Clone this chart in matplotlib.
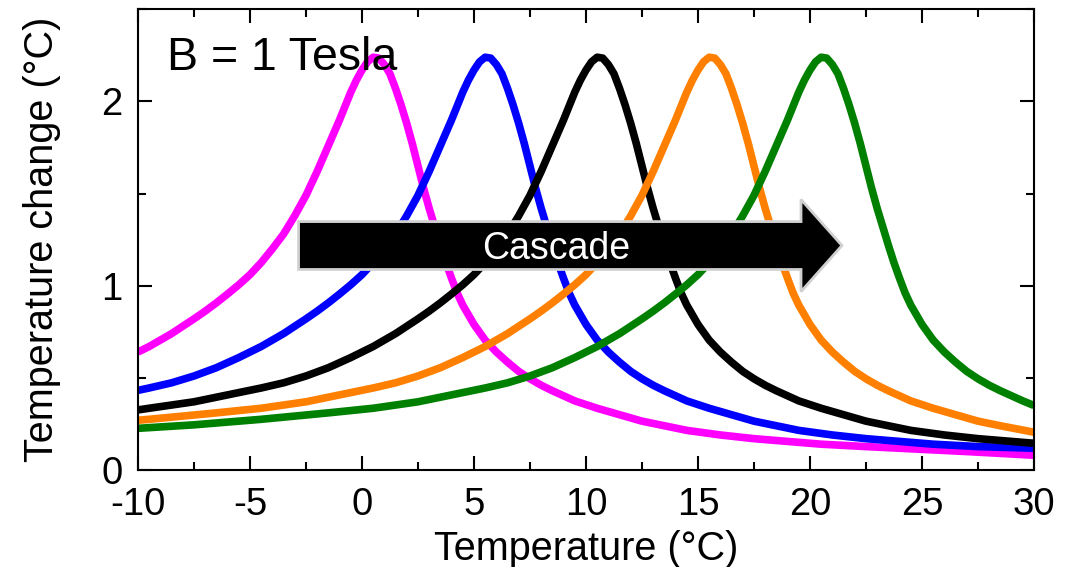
import matplotlib
matplotlib.use("Agg")
import matplotlib.pyplot as plt
from matplotlib.patches import FancyArrow
from matplotlib.ticker import MultipleLocator

plt.rcParams['font.family'] = ['Liberation Sans', 'DejaVu Sans']
plt.rcParams['axes.unicode_minus'] = False

# Adiabatic temperature change of five cascaded stages, B = 1 T
t_magenta = [-10, -9.5, -9, -8.5, -8,
             -7.5, -7, -6.5, -6, -5.5, -5, -4.5, -4, -3.5, -3, -2.5, -2, -1.5, -1, -0.5,
             -0.25, 0, 0.25, 0.5, 0.75, 1, 1.25, 1.5, 1.75, 2, 2.25, 2.5, 2.75, 3, 3.25, 3.5, 3.75, 4, 4.25, 4.5,
             5, 5.5, 6, 6.5, 7, 7.5, 8, 8.5,
             9.5, 10.5, 11.5, 12.5, 13.5, 14.5, 16, 17.5, 19, 20.5, 22.5, 24.5, 27, 30]
dt_magenta = [0.64, 0.67, 0.705, 0.74, 0.78,
              0.82, 0.862, 0.907, 0.955, 1.005, 1.06, 1.125, 1.20, 1.28, 1.38, 1.49, 1.62, 1.76, 1.90, 2.05,
              2.115, 2.17, 2.215, 2.24, 2.235, 2.20, 2.15, 2.07, 1.98, 1.88, 1.77, 1.65, 1.53, 1.42, 1.32, 1.22, 1.125, 1.04, 0.96, 0.895,
              0.79, 0.705, 0.64, 0.585, 0.535, 0.495, 0.46, 0.43,
              0.375, 0.335, 0.30, 0.265, 0.24, 0.215, 0.19, 0.17, 0.155, 0.14, 0.127, 0.115, 0.10, 0.08]

t_blue = [-10, -9.5, -8.5, -7.5, -6.5, -5.5, -4.5, -4, -3.5, -3,
          -2.5, -2, -1.5, -1, -0.5, 0, 0.5, 1, 1.5, 2, 2.5, 3, 3.5, 4, 4.5,
          4.75, 5, 5.25, 5.5, 5.75, 6, 6.25, 6.5, 6.75, 7, 7.25, 7.5, 7.75, 8, 8.25, 8.5, 8.75, 9, 9.25, 9.5,
          10, 10.5, 11, 11.5, 12, 12.5, 13, 13.5,
          14.5, 15.5, 16.5, 17.5, 18.5, 19.5, 21, 22.5, 24, 25.5, 27.5, 30]
dt_blue = [0.432, 0.445, 0.473, 0.51, 0.555, 0.61, 0.67, 0.705, 0.74, 0.78,
           0.82, 0.862, 0.907, 0.955, 1.005, 1.06, 1.125, 1.20, 1.28, 1.38, 1.49, 1.62, 1.76, 1.90, 2.05,
           2.115, 2.17, 2.215, 2.24, 2.235, 2.20, 2.15, 2.07, 1.98, 1.88, 1.77, 1.65, 1.53, 1.42, 1.32, 1.22, 1.125, 1.04, 0.96, 0.895,
           0.79, 0.705, 0.64, 0.585, 0.535, 0.495, 0.46, 0.43,
           0.375, 0.335, 0.30, 0.265, 0.24, 0.215, 0.19, 0.17, 0.155, 0.14, 0.127, 0.118]

t_black = [-10, -9.5, -7.5, -5.5, -4.5, -3.5, -2.5, -1.5, -0.5, 0.5, 1, 1.5, 2,
           2.5, 3, 3.5, 4, 4.5, 5, 5.5, 6, 6.5, 7, 7.5, 8, 8.5, 9, 9.5,
           9.75, 10, 10.25, 10.5, 10.75, 11, 11.25, 11.5, 11.75, 12, 12.25, 12.5, 12.75, 13, 13.25, 13.5, 13.75, 14, 14.25, 14.5,
           15, 15.5, 16, 16.5, 17, 17.5, 18, 18.5,
           19.5, 20.5, 21.5, 22.5, 23.5, 24.5, 26, 27.5, 29, 30]
dt_black = [0.326, 0.335, 0.37, 0.42, 0.445, 0.473, 0.51, 0.555, 0.61, 0.67, 0.705, 0.74, 0.78,
            0.82, 0.862, 0.907, 0.955, 1.005, 1.06, 1.125, 1.20, 1.28, 1.38, 1.49, 1.62, 1.76, 1.90, 2.05,
            2.115, 2.17, 2.215, 2.24, 2.235, 2.20, 2.15, 2.07, 1.98, 1.88, 1.77, 1.65, 1.53, 1.42, 1.32, 1.22, 1.125, 1.04, 0.96, 0.895,
            0.79, 0.705, 0.64, 0.585, 0.535, 0.495, 0.46, 0.43,
            0.375, 0.335, 0.30, 0.265, 0.24, 0.215, 0.19, 0.17, 0.155, 0.145]

t_orange = [-10, -9.5, -6.5, -4.5, -2.5, -0.5, 0.5, 1.5, 2.5, 3.5, 4.5, 5.5, 6, 6.5, 7,
            7.5, 8, 8.5, 9, 9.5, 10, 10.5, 11, 11.5, 12, 12.5, 13, 13.5, 14, 14.5,
            14.75, 15, 15.25, 15.5, 15.75, 16, 16.25, 16.5, 16.75, 17, 17.25, 17.5, 17.75, 18, 18.25, 18.5, 18.75, 19, 19.25, 19.5,
            20, 20.5, 21, 21.5, 22, 22.5, 23, 23.5,
            24.5, 25.5, 26.5, 27.5, 28.5, 30]
dt_orange = [0.27, 0.275, 0.31, 0.335, 0.37, 0.42, 0.445, 0.473, 0.51, 0.555, 0.61, 0.67, 0.705, 0.74, 0.78,
             0.82, 0.862, 0.907, 0.955, 1.005, 1.06, 1.125, 1.20, 1.28, 1.38, 1.49, 1.62, 1.76, 1.90, 2.05,
             2.115, 2.17, 2.215, 2.24, 2.235, 2.20, 2.15, 2.07, 1.98, 1.88, 1.77, 1.65, 1.53, 1.42, 1.32, 1.22, 1.125, 1.04, 0.96, 0.895,
             0.79, 0.705, 0.64, 0.585, 0.535, 0.495, 0.46, 0.43,
             0.375, 0.335, 0.30, 0.265, 0.24, 0.205]

t_green = [-10, -7.5, -4.5, -1.5, 0.5, 2.5, 4.5, 5.5, 6.5, 7.5, 8.5, 9.5, 10.5, 11, 11.5, 12,
           12.5, 13, 13.5, 14, 14.5, 15, 15.5, 16, 16.5, 17, 17.5, 18, 18.5, 19, 19.5,
           19.75, 20, 20.25, 20.5, 20.75, 21, 21.25, 21.5, 21.75, 22, 22.25, 22.5, 22.75, 23, 23.25, 23.5, 23.75, 24, 24.25, 24.5,
           25, 25.5, 26, 26.5, 27, 27.5, 28, 28.5,
           29.5, 30]
dt_green = [0.226, 0.245, 0.275, 0.31, 0.335, 0.37, 0.42, 0.445, 0.473, 0.51, 0.555, 0.61, 0.67, 0.705, 0.74, 0.78,
            0.82, 0.862, 0.907, 0.955, 1.005, 1.06, 1.125, 1.20, 1.28, 1.38, 1.49, 1.62, 1.76, 1.90, 2.05,
            2.115, 2.17, 2.215, 2.24, 2.235, 2.20, 2.15, 2.07, 1.98, 1.88, 1.77, 1.65, 1.53, 1.42, 1.32, 1.22, 1.125, 1.04, 0.96, 0.895,
            0.79, 0.705, 0.64, 0.585, 0.535, 0.495, 0.46, 0.43,
            0.375, 0.35]

curves = [
    (t_magenta, dt_magenta, '#ff00ff'),
    (t_blue, dt_blue, '#0000ff'),
    (t_black, dt_black, '#000000'),
    (t_orange, dt_orange, '#ff8000'),
    (t_green, dt_green, '#008000'),
]

fig = plt.figure(figsize=(10.82, 5.67), dpi=100)
ax = fig.add_axes([0.1275, 0.1711, 0.8281, 0.8125])

for t, dt, color in curves:
    ax.plot(t, dt, color=color, lw=5.5, solid_capstyle='butt', solid_joinstyle='round', zorder=2)

ax.set_xlim(-10, 30)
ax.set_ylim(0, 2.5)
ax.xaxis.set_major_locator(MultipleLocator(5))
ax.xaxis.set_minor_locator(MultipleLocator(2.5))
ax.yaxis.set_major_locator(MultipleLocator(1))
ax.yaxis.set_minor_locator(MultipleLocator(0.5))
ax.tick_params(which='both', direction='in', top=True, right=True, width=1.5,
               labelsize=27.5, pad=11)
ax.tick_params(axis='x', which='major', pad=12)
ax.tick_params(which='major', length=10)
ax.tick_params(which='minor', length=6)
for s in ax.spines.values():
    s.set_linewidth(1.5)

ax.set_xlabel('Temperature (°C)', fontsize=28.5, labelpad=5)
ax.set_ylabel('Temperature change (°C)', fontsize=28.5, labelpad=29)

# cascade arrow across the peaks
arrow = FancyArrow(-2.83, 1.218, 24.26, 0, width=0.26, head_width=0.50,
                   head_length=1.83, length_includes_head=True,
                   fc='black', ec='#d0d0d0', lw=2, zorder=4)
ax.add_patch(arrow)
ax.text(8.66, 1.147, 'Cascade', color='white', fontsize=27, ha='center', va='baseline', zorder=5)

ax.text(-8.72, 2.168, 'B = 1 Tesla', fontsize=33.5, ha='left', va='baseline', zorder=5)

fig.savefig('out.png', dpi=100)
